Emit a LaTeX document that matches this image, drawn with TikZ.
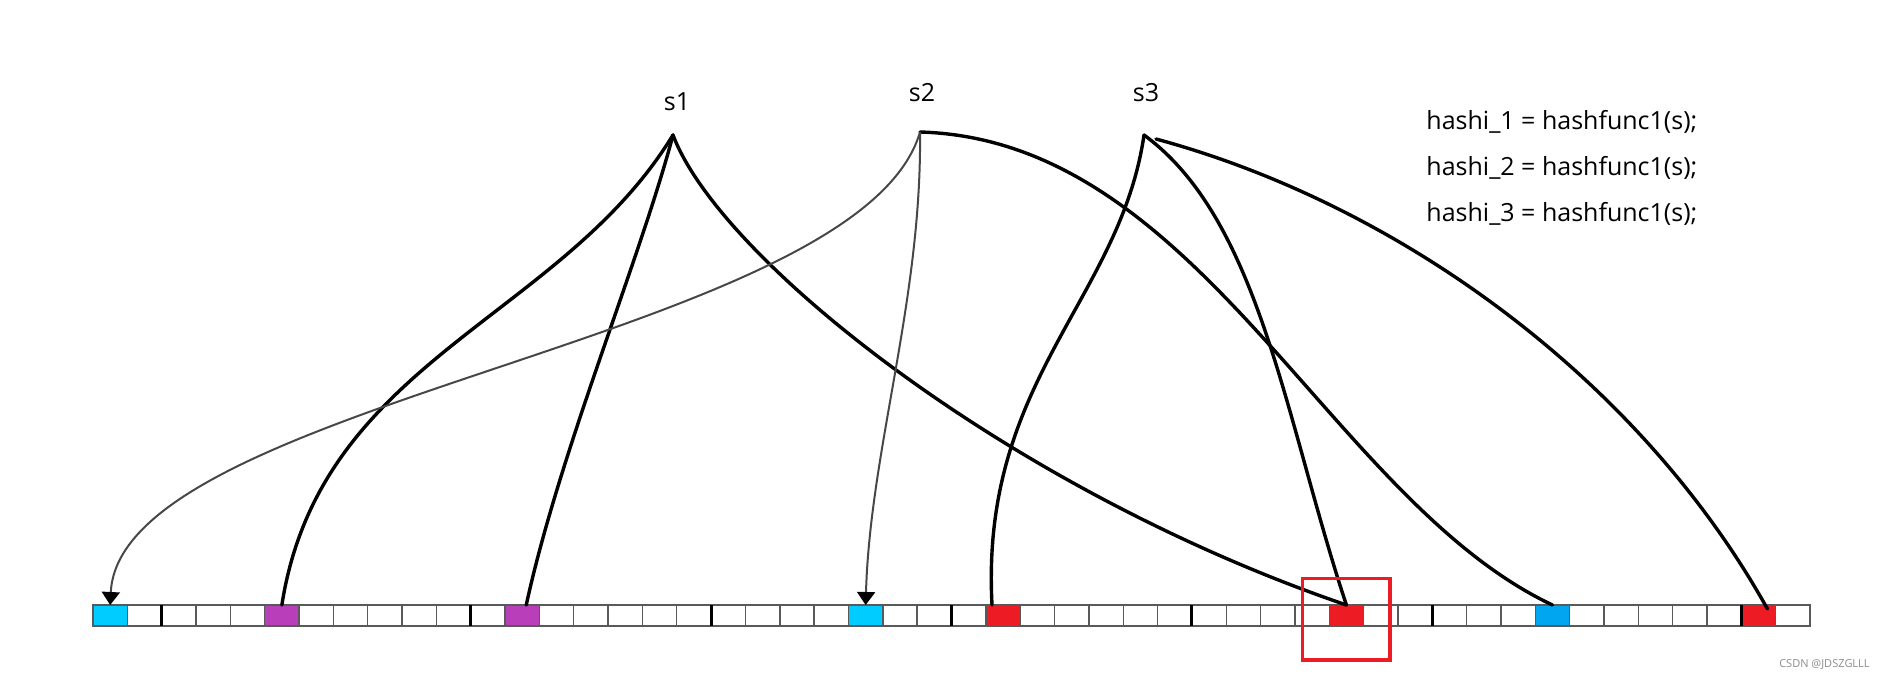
\documentclass[tikz,border=0pt]{standalone}
\usepackage{fontspec}
\setmainfont{Open Sans}
\usetikzlibrary{arrows.meta}

\definecolor{cyanbit}{RGB}{0,204,255}
\definecolor{bluebit}{RGB}{0,166,240}
\definecolor{purplebit}{RGB}{184,62,186}
\definecolor{redbit}{RGB}{237,28,36}

\tikzset{
  cell/.style={draw=black!65, line width=0.7pt, fill=white,
    minimum width=17.17pt, minimum height=10.5pt, inner sep=0pt, outer sep=0pt},
  sep/.style={line width=1.6pt, black},
  hop/.style={line width=1.7pt, line cap=round},
  probe/.style={line width=1pt, black!72,
    -{Triangle[width=9pt,length=6.5pt,color=black]}},
  hitbox/.style={draw=redbit, line width=1.6pt, minimum width=43.6pt,
    minimum height=40.8pt, inner sep=0pt},
  label/.style={font=\fontsize{12.5}{14}\selectfont}
}

\begin{document}
\begin{tikzpicture}[x=0.5pt,y=-0.5pt]
  \useasboundingbox (0,0) rectangle (1886,680);

  % bit array
  \foreach \i in {0,...,49}
    \node[cell] (c\i) at ({93+(\i+0.5)*34.34},615.5) {};
  \foreach \i/\col in {0/cyanbit,5/purplebit,12/purplebit,22/cyanbit,
      26/redbit,36/redbit,42/bluebit,48/redbit}
    \node[cell,fill=\col] (f\i) at (c\i) {};
  \foreach \i in {2,11,18,25,32,39,48}
    \draw[sep] (c\i.north west) -- (c\i.south west);

  % strings
  \node[label] (s1) at (677,102) {s1};
  \node[label] (s2) at (922,93) {s2};
  \node[label] (s3) at (1146,93) {s3};
  \coordinate (a1) at (673,135);
  \coordinate (a2) at (920,132);
  \coordinate (a3) at (1144,135);
  \coordinate (b3) at (1156,139);

  \begin{scope}[hop]
    \draw (a1) .. controls (560,320) and (320,360) .. (f5.north);
    \draw (a1) .. controls (640,260) and (560,450) .. ([xshift=2pt]f12.north);
    \draw (a1) .. controls (720,260) and (1010,490) .. (f36.north);
    \draw (a2) .. controls (1200,140) and (1330,500) .. (f42.north);
    \draw (a3) .. controls (1120,300) and (980,380) .. ([xshift=-5.5pt]f26.north);
    \draw (a3) .. controls (1260,220) and (1285,420) .. (f36.north);
    \draw (b3) .. controls (1400,205) and (1640,380) .. ([xshift=4.5pt,yshift=-2pt]f48.north);
  \end{scope}
  \begin{scope}[probe]
    \draw (a2) .. controls (860,340) and (120,400) .. (f0.north);
    \draw (a2) .. controls (922,300) and (870,450) .. (f22.north);
  \end{scope}

  \node[hitbox] (hit) at (1346.4,619.2) {};

  % hash functions
  \node[label,anchor=west,inner sep=0pt] (h1) at (1426,121.5) {hashi\_1 = hashfunc1(s);};
  \node[label,anchor=west,inner sep=0pt] (h2) at (1426,168.4) {hashi\_2 = hashfunc1(s);};
  \node[label,anchor=west,inner sep=0pt] (h3) at (1426,214) {hashi\_3 = hashfunc1(s);};

  \node[anchor=east, inner sep=0pt, text=black!45, font=\fontsize{5.5}{7}\selectfont]
    (wm) at (1870,665) {CSDN @JDSZGLLL};
\end{tikzpicture}
\end{document}
